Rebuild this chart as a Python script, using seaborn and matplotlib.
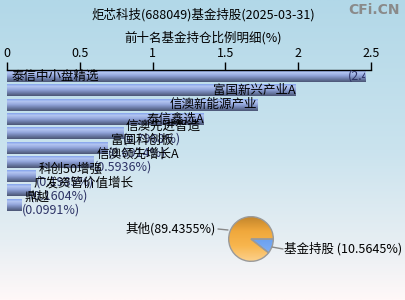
import numpy as np
import pandas as pd
import matplotlib
matplotlib.use('Agg')
import matplotlib.pyplot as plt
import seaborn as sns
from matplotlib.colors import LinearSegmentedColormap

# --- 数据 ---
fund_names = ['泰信中小盘精选', '富国新兴产业A', '信澳新能源产业', '泰信鑫选A', '信澳先进智造',
              '富国科创板', '信澳领先增长A', '科创50增强', '广发资管价值增长', '鼎越']
fund_pcts = [2.4600, 1.9800, 1.7200, 1.3512, 0.7968, 0.6914, 0.5936, 0.1985, 0.1604, 0.0991]
pie_labels = ['基金持股', '其他']
pie_values = [10.5645, 89.4355]
x_ticks = [0, 0.5, 1, 1.5, 2, 2.5]

sns.set_theme(style='white')
plt.rcParams['font.family'] = ['Noto Sans CJK SC', 'DejaVu Sans']
plt.rcParams['axes.unicode_minus'] = False

W, H = 405, 300
fig = plt.figure(figsize=(W / 100, H / 100), dpi=100)

# 背景渐变
bg = fig.add_axes([0, 0, 1, 1], zorder=-10)
bg_cmap = LinearSegmentedColormap.from_list(
    'bg', [(0, '#b2d8e8'), (0.5, '#cae3ee'), (0.8, '#e6eef3'), (1, '#fff8f8')])
bg.imshow(np.linspace(0, 1, 256).reshape(-1, 1), aspect='auto', cmap=bg_cmap,
          extent=[0, 1, 0, 1], origin='upper')
bg.axis('off')

fig.text(203 / W, 1 - 15 / H, '炬芯科技(688049)基金持股(2025-03-31)', ha='center', va='center',
         fontsize=9, color='black')
fig.text(203 / W, 1 - 38 / H, '前十名基金持仓比例明细(%)', ha='center', va='center',
         fontsize=9, color='black')
fig.text(400 / W, 1 - 10 / H, 'CFi.CN', ha='right', va='center', fontsize=10,
         fontweight='bold', color='#8a8a8a', family='DejaVu Sans')

# --- 条形图 ---
top_px, row_px = 70, 14.3
bar_h = 0.84
y_lo, y_hi = -bar_h / 2, 9 + bar_h / 2
ax_h_px = (y_hi - y_lo) * row_px
ax = fig.add_axes([7 / W, 1 - (top_px + ax_h_px) / H, 364 / W, ax_h_px / H])
ax.set_facecolor('none')

df = pd.DataFrame({'基金': fund_names, '比例': fund_pcts})
sns.barplot(data=df, x='比例', y='基金', orient='h', color='#7f97d6', width=bar_h, ax=ax)

bar_cmap = LinearSegmentedColormap.from_list(
    'bar', ['#6e93ea', '#b4c6f2', '#93a6dc', '#6c7ca8', '#4b5675'])
for p in ax.patches:
    p.set_facecolor('none')
    p.set_edgecolor('none')
    x0, y0 = p.get_x(), p.get_y()
    im = ax.imshow(np.linspace(0, 1, 64).reshape(-1, 1), aspect='auto', cmap=bar_cmap,
                   extent=[x0, x0 + p.get_width(), y0 + p.get_height(), y0], origin='upper',
                   zorder=2)
    im.set_clip_path(p)

ax.set_xlim(0, 2.5)
ax.set_ylim(y_hi, y_lo)
ax.xaxis.tick_top()
ax.set_xticks(x_ticks)
ax.set_xticklabels(['0', '0.5', '1', '1.5', '2', '2.5'])
ax.tick_params(axis='x', direction='out', length=6, width=1, color='black', pad=1,
               labelsize=9, labelcolor='black', top=True, bottom=False)
ax.set_yticks([])
ax.set_xlabel('')
ax.set_ylabel('')
for s in ['left', 'right', 'bottom']:
    ax.spines[s].set_visible(False)
ax.spines['top'].set_color('black')
ax.spines['top'].set_linewidth(1)

val_color = '#2e3466'
for i, (name, v) in enumerate(zip(fund_names, fund_pcts)):
    if i == 0:
        ax.text(0.034, i, name, ha='left', va='center', fontsize=9, color='black', zorder=5)
        t = ax.text(2.34, i, f'({v:.4f}%)', ha='left', va='center', fontsize=9,
                    color=val_color, zorder=5, clip_on=True)
        t.set_clip_path(ax.patches[i])
    elif v > 1:
        ax.text(v, i, name, ha='right', va='center', fontsize=9, color='black', zorder=5)
    else:
        ax.text(v + 0.02, i - 0.5, name, ha='left', va='center', fontsize=9,
                color='black', zorder=5, clip_on=False)
        ax.text(v + 0.0, i + 0.38, f'({v:.4f}%)', ha='left', va='center', fontsize=9,
                color=val_color, zorder=4, clip_on=False)

# --- 饼图 ---
cx, cy, r = 251, 239, 23
pax = fig.add_axes([(cx - r) / W, 1 - (cy + r) / H, 2 * r / W, 2 * r / H])
wedges, _ = pax.pie(pie_values, colors=['#5b93ea', '#f5ad43'], startangle=0,
                    counterclock=False, wedgeprops=dict(edgecolor='#9a9a9a', linewidth=1))
pax.set_xlim(-1.03, 1.03)
pax.set_ylim(-1.03, 1.03)
pax.set_aspect('equal')
pie_cmaps = [
    LinearSegmentedColormap.from_list('pb', ['#3f78d8', '#6aa0f0', '#8cb8f6']),
    LinearSegmentedColormap.from_list('po', ['#c2852c', '#f0a83c', '#f8b64e', '#fcd08a']),
]
for w, cm in zip(wedges, pie_cmaps):
    w.set_facecolor('none')
    im = pax.imshow(np.linspace(0, 1, 64).reshape(-1, 1), aspect='auto', cmap=cm,
                    extent=[-1, 1, -1, 1], origin='upper', zorder=0)
    im.set_clip_path(w)
for w in wedges:
    w.set_zorder(3)

fig.add_artist(plt.Line2D([218 / W, 228 / W], [1 - 229 / H, 1 - 230 / H],
                          color='#888888', lw=1))
fig.add_artist(plt.Line2D([272 / W, 283 / W], [1 - 247 / H, 1 - 249 / H],
                          color='#888888', lw=1))
fig.text(216 / W, 1 - 229 / H, '其他(89.4355%)', ha='right', va='center', fontsize=9,
         color='black')
fig.text(284 / W, 1 - 249 / H, '基金持股 (10.5645%)', ha='left', va='center', fontsize=9,
         color='black')

fig.savefig('out.png', dpi=100)
